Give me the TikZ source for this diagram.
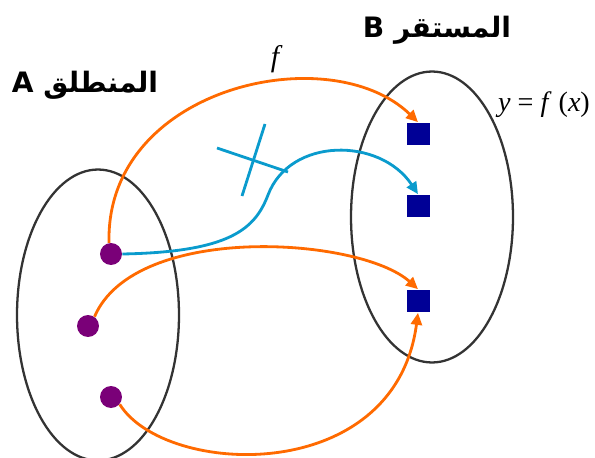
\documentclass[tikz,border=0pt]{standalone}
\usepackage{fontspec}
\setmainfont{Liberation Serif}
\newfontfamily\arabicfont[Script=Arabic]{DejaVu Sans}
\TeXXeTstate=1
\usetikzlibrary{arrows.meta, shapes.geometric}
\definecolor{maporange}{HTML}{FF6A00}
\definecolor{mapcyan}{HTML}{0A9BCD}
\definecolor{dotpurple}{HTML}{7A0078}
\definecolor{boxnavy}{HTML}{000096}
\definecolor{setgray}{HTML}{333333}

\begin{document}
\begin{tikzpicture}[
    x=0.02cm, y=0.02cm,
    setshape/.style={
        ellipse,
        draw=setgray,
        line width=1.3pt,
        minimum width=3.24cm,
        minimum height=5.82cm
    },
    elemdot/.style={
        circle,
        fill=dotpurple,
        inner sep=0pt,
        minimum size=0.44cm
    },
    elembox/.style={
        rectangle,
        fill=boxnavy,
        inner sep=0pt,
        minimum size=0.46cm
    },
    setlabel/.style={
        font=\arabicfont\bfseries\fontsize{16}{19}\selectfont
    },
    arrow/.style={
        line width=1.6pt,
        -{Triangle[length=0.24cm, width=0.22cm]}
    }
]
\useasboundingbox (0,0) rectangle (595,457);

\node[setshape] (setA) at (98,142) {};
\node[setshape] (setB) at (432,240) {};

\node[setlabel] (labelA) at (85,372) {\beginR المنطلق A\endR};
\node[setlabel] (labelB) at (437,427) {\beginR المستقر B\endR};

\node[elemdot] (a1) at (111,203) {};
\node[elemdot] (a2) at (88,131) {};
\node[elemdot] (a3) at (111,60) {};

\node[elembox] (b1) at (418,323) {};
\node[elembox] (b2) at (418,251) {};
\node[elembox] (b3) at (418,156) {};

\node[font=\itshape\fontsize{17}{19}\selectfont] (fname) at (275,398) {f};
\node[font=\fontsize{16}{19}\selectfont] (rule) at (544,352) {\textit{y} = \textit{f} (\textit{x})};

% the mapping f
\draw[arrow, maporange] (a1.100) .. controls (105,370) and (330,420) .. (b1.north);
\draw[arrow, maporange] (a2.55) .. controls (135,235) and (360,220) .. (b3.north);
\draw[arrow, maporange] (a3.-40) .. controls (165,-20) and (395,-30) .. (b3.south);

% not allowed: one element to two images
\coordinate (bend) at (268,262);
\draw[arrow, mapcyan] (a1.east) .. controls (230,205) and (255,228) .. (bend)
    .. controls (290,320) and (380,320) .. (b2.north);
\draw[mapcyan, line width=1.6pt] (217,309) -- (288,285);
\draw[mapcyan, line width=1.6pt] (265,333) -- (242,261);

\end{tikzpicture}
\end{document}
